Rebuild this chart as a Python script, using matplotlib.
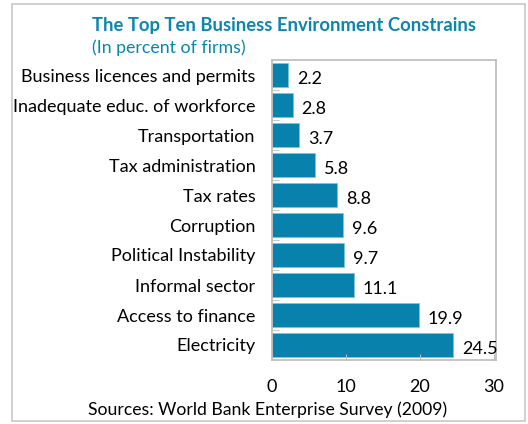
import matplotlib.pyplot as plt
from matplotlib.patches import Rectangle

categories = ["Business licences and permits", "Inadequate educ. of workforce",
              "Transportation", "Tax administration", "Tax rates", "Corruption",
              "Political Instability", "Informal sector", "Access to finance",
              "Electricity"]
values = [2.2, 2.8, 3.7, 5.8, 8.8, 9.6, 9.7, 11.1, 19.9, 24.5]
xticks = [0, 10, 20, 30]

BAR = "#0882ad"
TEAL = "#0a86b0"
plt.rcParams['font.family'] = ['Lato', 'DejaVu Sans']

fig = plt.figure(figsize=(5.28, 4.24), dpi=100)
fig.patches.append(Rectangle((12 / 528, 1 - 421 / 424), 513 / 528, 417 / 424,
                             transform=fig.transFigure, fill=False,
                             edgecolor="#c8c8c8", linewidth=1.2))

ax = fig.add_axes([272 / 528, 1 - 360 / 424, 224 / 528, 300 / 424])
ypos = list(range(len(categories)))
ax.barh(ypos, values, height=0.83, color=BAR, edgecolor="#7fc4dc", linewidth=0.6)
ax.set_ylim(len(categories) - 0.5, -0.5)
ax.set_xlim(0, 30.3)
ax.set_yticks(ypos)
ax.set_yticklabels(categories, fontsize=13)
ax.tick_params(axis='y', which='major', length=0, pad=12)
# small separators between categories
ax.set_yticks([y + 0.5 for y in ypos[:-1]], minor=True)
ax.tick_params(axis='y', which='minor', direction='in', length=5, color="#bbbbbb")
ax.set_xticks(xticks)
ax.set_xticklabels([str(t) for t in xticks], fontsize=13)
ax.tick_params(axis='x', direction='in', length=4, color="#bbbbbb", pad=14)
for s in ax.spines.values():
    s.set_color("#bbbbbb")
    s.set_linewidth(1.2)

for y, v in zip(ypos, values):
    ax.text(v + 1.2, y + 0.12, f"{v}", va='center', ha='left', fontsize=13)

fig.text(92 / 528, 1 - 25 / 424, "The Top Ten Business Environment Constrains",
         fontsize=13.3, fontweight='bold', color=TEAL, va='center')
fig.text(92 / 528, 1 - 48 / 424, "(In percent of firms)", fontsize=12.8,
         color=TEAL, va='center')
fig.text(268 / 528, 1 - 410 / 424, "Sources: World Bank Enterprise Survey (2009)",
         fontsize=12.7, ha='center', va='center')

fig.savefig("out.png", dpi=100)
